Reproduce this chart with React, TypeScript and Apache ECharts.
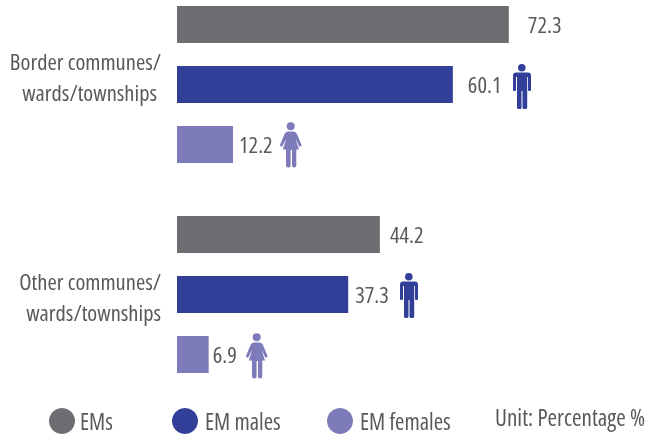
import React, { useEffect, useRef } from "react";
import * as echarts from "echarts";

const categories = ["Border communes/\nwards/townships", "Other communes/\nwards/townships"];
const emsValues = [72.3, 44.2];
const maleValues = [60.1, 37.3];
const femaleValues = [12.2, 6.9];
const seriesNames = ["EMs", "EM males", "EM females"];
const legendLefts = [49, 172, 327];
const legendTextPad = [0, 2, 2];
const unitText = "Unit: Percentage %";
const FONT = "'Open Sans', sans-serif";
const TEXT = "#58595b";
const GREY = "#6d6e71";
const BLUE = "#323f98";
const PURPLE = "#7e7bbb";

const manPath = "M3,8.5 L15,8.5 Q18,8.5 18,11.5 L18,26 Q18,27 17,27 L16,27 Q15,27 15,26 L15,13 L14.2,13 L14.2,43.5 Q14.2,45 12.5,45 L11,45 Q9.5,45 9.5,43.5 L9.5,27 L8.5,27 L8.5,43.5 Q8.5,45 7,45 L5.5,45 Q4,45 4,43.5 L4,13 L3,13 L3,26 Q3,27 2,27 L1,27 Q0,27 0,26 L0,11.5 Q0,8.5 3,8.5 Z M12.6,3.8 A3.8,3.8 0 1 1 5,3.8 A3.8,3.8 0 1 1 12.6,3.8 Z";
const womanPath = "M7,9.5 L12.5,9.5 Q15,9.5 16,12 L20.7,23.5 L18.5,25 L15,17.5 L14.8,17.5 L18,27.5 L15.3,27.5 L15.3,43.5 Q15.3,45.5 13.3,45.5 Q11,45.5 11,43.5 L11,28 L9.6,28 L9.6,43.5 Q9.6,45.5 7.3,45.5 Q5,45.5 5,43.5 L5,27.5 L1.8,27.5 L5,17.5 L4.8,17.5 L1,25 L-1.2,23.5 L3.5,12 Q4.5,9.5 7,9.5 Z M13.7,4.3 A4,4 0 1 1 5.7,4.3 A4,4 0 1 1 13.7,4.3 Z";

echarts.graphic.registerShape("manIcon", echarts.graphic.extendPath(manPath as any, {}) as any);
echarts.graphic.registerShape("womanIcon", echarts.graphic.extendPath(womanPath as any, {}) as any);

const labelGaps = [[19, 10], [15, 7], [6, 4]];

function barSeries(name: string, values: number[], color: string, gaps: number[]) {
  return {
    type: "bar",
    name,
    barWidth: 37,
    barGap: "62%",
    itemStyle: { color },
    data: values.map((value, i) => ({
      value,
      label: { show: true, position: "right", distance: gaps[i], fontFamily: FONT, fontSize: 22.5, color: TEXT },
    })),
  };
}

export default function App() {
  const ref = useRef<HTMLDivElement>(null);
  useEffect(() => {
    const css = document.createElement("style");
    css.textContent = ".narrow-chart text { font-stretch: 75% !important; }";
    document.head.appendChild(css);
    const chart = echarts.init(ref.current!, null, { renderer: "svg" });
    chart.setOption({
      animation: false,
      grid: { left: 177, top: -20.5, width: 459, height: 420, outerBoundsMode: "none" },
      xAxis: { type: "value", min: 0, max: 100, show: false },
      yAxis: {
        type: "category",
        inverse: true,
        data: categories,
        axisLine: { show: false },
        axisTick: { show: false },
        axisLabel: {
          margin: 16,
          align: "right",
          formatter: (v: string, i: number) => {
            const parts = v.split("\n");
            return i === 0
              ? `{a|${parts[0]}}\n{b|${parts[1]}}\n{s|}`
              : `{t|}\n{a|${parts[0]}}\n{a|${parts[1]}}`;
          },
          rich: {
            a: { fontFamily: FONT, fontSize: 22.5, color: TEXT, lineHeight: 31, align: "right" },
            b: { fontFamily: FONT, fontSize: 22.5, color: TEXT, lineHeight: 31, align: "right", padding: [0, 4, 0, 0] },
            s: { lineHeight: 16, fontSize: 1 },
            t: { lineHeight: 4, fontSize: 1 },
          },
        },
      },
      legend: seriesNames.map((name, i) => ({
        left: legendLefts[i],
        top: 408,
        padding: 0,
        itemWidth: 26,
        itemHeight: 26,
        itemGap: 0,
        icon: "circle",
        symbolKeepAspect: false,
        data: [name],
        selectedMode: false,
        textStyle: { fontFamily: FONT, fontSize: 22.7, lineHeight: 24, color: TEXT, padding: [0, 0, 0, legendTextPad[i]] },
      })),
      series: [
        barSeries(seriesNames[0], emsValues, GREY, labelGaps[0]),
        barSeries(seriesNames[1], maleValues, BLUE, labelGaps[1]),
        barSeries(seriesNames[2], femaleValues, PURPLE, labelGaps[2]),
      ],
      graphic: [
        { type: "manIcon", x: 513, y: 64, style: { fill: BLUE } },
        { type: "manIcon", x: 400, y: 273, style: { fill: BLUE } },
        { type: "womanIcon", x: 281, y: 122, style: { fill: PURPLE } },
        { type: "womanIcon", x: 247, y: 333, style: { fill: PURPLE } },
        { type: "text", x: 495, y: 405, style: { text: unitText, fontFamily: FONT, fontSize: 23.1, fill: TEXT } },
      ],
    });
    return () => chart.dispose();
  }, []);
  return <div className="narrow-chart" ref={ref} style={{ position: "fixed", left: 0, top: 0, width: 649, height: 435 }} />;
}
